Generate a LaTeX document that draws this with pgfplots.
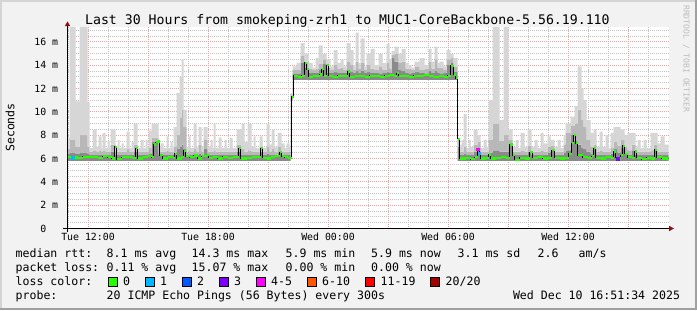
\documentclass[border=0pt]{standalone}
\usepackage{pgfplots}
\pgfplotsset{compat=1.18}
\usepackage{pgfplotstable}
\usepackage{fontspec}
\setmainfont{DejaVu Sans Mono}

\definecolor{bgc}{HTML}{F2F2F2}
\definecolor{shadeA}{HTML}{D4D4D4}
\definecolor{shadeB}{HTML}{A0A0A0}
\definecolor{mgrid}{HTML}{F4A0A0}
\definecolor{ngrid}{HTML}{C4C4C4}
\definecolor{arrowred}{HTML}{8B1010}
\definecolor{smokeL}{HTML}{D6D6D6}
\definecolor{smokeM}{HTML}{B8B8B8}
\definecolor{smokeD}{HTML}{8A8A8A}
\definecolor{lossA}{HTML}{26FF00}
\definecolor{lossB}{HTML}{00B8FF}
\definecolor{lossC}{HTML}{0059FF}
\definecolor{lossD}{HTML}{7E00FF}
\definecolor{lossE}{HTML}{FF00FF}
\definecolor{lossF}{HTML}{FF5500}
\definecolor{lossG}{HTML}{FF0000}
\definecolor{lossH}{HTML}{A10000}
\definecolor{credit}{HTML}{BDBDBD}

% smoke: lo = lowest ping, d/m/l = tops of dark, mid and light smoke bands (ms)
\pgfplotstableread{
h lo d m l
10.95 5.8 6.4 6.8 7.8
11.05 5.8 6.5 7.6 17.5
11.35 5.8 6.4 7.0 10.9
11.55 5.8 6.5 8.0 17.5
11.95 5.8 6.4 7.0 10.8
12.05 5.8 6.3 6.6 6.9
12.20 5.8 6.3 6.7 8.5
12.40 5.8 6.3 6.6 7.0
12.50 5.8 6.3 6.7 7.9
12.65 5.8 6.3 6.6 6.9
12.70 5.8 6.3 6.7 8.2
12.85 5.8 6.3 6.6 6.9
12.95 5.8 6.3 6.6 7.5
13.05 5.8 6.3 6.6 6.9
13.10 5.8 6.6 7.2 8.5
13.35 5.8 6.3 6.6 7.0
13.45 5.8 6.3 6.6 7.6
13.55 5.8 6.3 6.6 6.9
13.65 5.8 6.3 6.6 7.3
13.75 5.8 6.3 6.6 6.9
13.90 5.8 6.3 6.8 8.3
14.05 5.8 6.3 6.6 6.9
14.15 5.8 6.3 6.6 7.4
14.25 5.8 6.6 7.2 9.0
14.45 5.8 6.3 6.6 6.9
14.60 5.8 6.3 6.6 7.6
14.75 5.8 6.3 6.6 6.9
14.85 5.8 6.3 6.6 7.6
14.95 5.8 6.3 6.6 7.0
15.00 5.8 6.4 6.9 8.4
15.15 5.8 7.4 7.8 9.0
15.50 5.8 6.3 6.6 7.0
15.60 5.8 6.3 6.6 7.3
15.75 5.8 6.3 6.6 6.9
15.90 5.8 6.3 6.7 7.9
16.00 5.8 6.3 6.6 6.9
16.10 5.8 6.3 6.6 7.4
16.20 5.8 6.3 6.6 6.9
16.25 5.8 6.5 7.0 8.7
16.40 5.8 6.8 8.0 11.6
16.55 5.8 7.0 9.5 13.0
16.65 5.8 7.2 10.2 14.5
16.75 5.8 6.8 8.7 10.2
16.90 5.8 6.3 6.6 7.0
17.00 5.8 6.3 6.7 7.9
17.10 5.8 6.3 6.6 6.9
17.25 5.8 6.3 6.8 9.0
17.40 5.8 6.3 6.6 7.0
17.50 5.8 6.4 7.2 8.7
17.65 5.8 6.3 6.6 7.0
17.75 5.8 6.8 7.6 8.7
17.95 5.8 6.3 6.6 7.0
18.10 5.8 6.3 6.6 7.6
18.20 5.8 6.3 6.6 6.9
18.25 5.8 6.3 6.7 9.0
18.35 5.8 6.3 6.6 6.9
18.50 5.8 6.3 6.6 7.8
18.65 5.8 6.3 6.6 6.9
18.80 5.8 6.3 6.6 7.6
18.90 5.8 6.3 6.6 6.9
19.05 5.8 6.3 6.6 7.8
19.20 5.8 6.3 6.6 6.9
19.40 5.8 6.6 7.2 8.5
19.65 5.8 6.3 6.8 9.0
19.80 5.8 6.3 6.6 7.4
19.95 5.8 6.3 6.7 9.0
20.15 5.8 6.3 6.6 7.0
20.25 5.8 6.3 6.6 7.9
20.35 5.8 6.3 6.6 6.9
20.55 5.8 6.6 7.0 7.9
20.70 5.8 6.3 6.6 6.9
20.90 5.8 6.4 7.0 9.0
21.05 5.8 6.3 6.6 7.2
21.15 5.8 6.3 6.8 8.5
21.30 5.8 6.3 6.6 7.0
21.45 5.8 6.5 7.0 8.2
21.65 5.8 6.3 6.6 7.3
21.80 5.8 6.3 6.6 6.9
21.90 5.8 6.3 6.6 7.3
22.05 5.8 6.3 6.6 7.0
22.10 11.0 11.3 11.5 11.6
22.20 12.75 13.3 13.6 13.9
22.40 12.75 13.3 13.6 14.2
22.60 12.75 14.2 14.8 15.9
22.80 12.75 13.8 14.3 15.0
23.00 12.75 13.35 13.7 14.2
23.20 12.75 13.35 13.6 13.8
23.35 12.75 13.35 13.7 14.6
23.50 12.75 13.6 14.1 15.7
23.70 12.75 14.1 14.5 15.0
23.90 12.75 13.35 13.8 14.5
24.10 12.75 13.35 13.6 13.9
24.25 12.75 13.4 14.0 15.3
24.45 12.75 13.35 13.7 14.2
24.60 12.75 13.35 13.8 14.5
24.75 12.75 13.35 13.6 13.9
24.90 12.75 13.6 14.3 15.9
25.10 12.75 13.4 14.0 15.3
25.25 12.75 13.35 13.6 14.0
25.35 12.75 13.5 14.3 16.8
25.50 12.75 13.35 13.7 14.2
25.60 12.75 13.5 14.2 16.3
25.80 12.75 13.35 13.6 13.9
25.90 12.75 13.4 14.0 15.0
26.10 12.75 13.35 13.7 15.4
26.30 12.75 13.35 13.6 14.0
26.50 12.75 13.3 13.9 15.0
26.70 12.75 13.35 13.6 14.2
26.90 12.75 13.4 14.2 15.8
27.05 12.75 13.35 13.7 14.5
27.15 12.75 14.6 14.9 15.2
27.30 12.75 14.3 15.0 15.6
27.50 12.75 13.6 14.2 15.0
27.65 12.75 13.5 14.3 15.4
27.85 12.75 13.35 13.7 14.2
28.00 12.75 13.3 13.7 14.0
28.15 12.75 13.35 13.6 13.8
28.30 12.75 13.4 13.9 14.3
28.55 12.75 13.35 13.6 14.6
28.80 12.75 13.3 13.7 14.0
29.00 12.75 13.5 14.3 15.4
29.15 12.75 13.35 13.7 14.3
29.30 12.75 13.5 14.5 15.6
29.45 12.75 13.35 13.8 14.2
29.55 12.75 13.3 13.8 14.3
29.75 12.75 13.35 13.6 13.9
29.90 12.75 14.0 14.5 15.3
30.10 12.75 14.2 14.6 15.0
30.25 12.75 13.4 13.9 14.6
30.45 5.8 7.0 7.6 7.6
30.55 5.8 6.3 6.6 7.2
30.65 5.8 6.3 6.6 7.6
30.75 5.8 6.4 7.0 9.8
30.90 5.8 6.3 6.6 6.9
31.00 5.8 6.3 6.6 7.6
31.10 5.8 6.3 6.6 7.0
31.25 5.8 6.6 7.2 8.5
31.45 5.8 6.9 7.4 8.0
31.60 5.8 6.3 6.6 6.9
31.75 5.8 6.3 6.6 7.6
31.90 5.8 6.3 6.6 7.0
32.00 5.8 6.5 7.6 11.0
32.20 5.8 6.7 9.0 17.5
32.55 5.8 6.6 7.5 9.3
32.75 5.8 6.6 8.0 17.5
33.00 5.8 7.2 7.6 8.5
33.20 5.8 6.3 6.6 7.0
33.35 5.8 6.3 6.6 7.6
33.50 5.8 6.3 6.6 6.9
33.60 5.8 6.3 6.7 8.2
33.80 5.8 6.3 6.6 7.0
33.95 5.8 6.6 7.1 8.5
34.15 5.8 6.3 6.6 7.0
34.30 5.8 6.3 6.6 7.6
34.45 5.8 6.3 6.6 6.9
34.60 5.8 6.3 6.7 8.2
34.75 5.8 6.3 6.6 7.3
34.95 5.8 6.5 7.0 7.9
35.10 5.8 6.7 7.1 7.6
35.30 5.8 6.3 6.6 7.0
35.45 5.8 6.3 6.6 7.6
35.60 5.8 6.3 6.6 6.9
35.75 5.8 6.5 7.2 8.0
35.85 5.8 6.7 8.2 9.0
36.10 5.8 8.0 8.8 9.6
36.30 5.8 7.5 9.0 10.5
36.45 5.8 7.2 10.2 13.9
36.65 5.8 6.9 9.3 12.0
36.75 5.8 6.8 8.7 11.0
36.90 5.8 6.6 7.6 9.3
37.10 5.8 6.4 7.0 8.2
37.25 5.8 6.8 7.2 8.5
37.40 5.8 6.3 6.6 7.0
37.55 5.8 6.3 6.7 8.3
37.70 5.8 6.3 6.6 7.0
37.85 5.8 6.3 6.6 8.0
38.00 5.8 6.3 6.6 6.9
38.10 5.8 6.4 6.9 8.2
38.25 5.8 6.8 7.4 8.7
38.45 5.8 6.5 7.1 8.7
38.60 5.8 6.9 7.6 8.5
38.80 5.8 6.5 7.0 8.0
38.95 5.8 6.3 6.7 8.2
39.15 5.8 6.7 7.2 8.2
39.35 5.8 6.3 6.6 7.0
39.45 5.8 6.3 6.6 7.6
39.60 5.8 6.3 6.6 6.9
39.75 5.8 6.3 6.6 7.6
39.90 5.8 6.3 6.6 6.9
40.10 5.8 6.3 6.7 8.2
40.25 5.8 6.7 7.2 8.2
40.45 5.8 6.3 6.6 7.3
40.60 5.8 6.3 6.6 7.9
40.80 5.8 6.3 6.6 7.2
41.00 5.8 6.3 6.6 7.2
}\smoke

\pgfplotstableread{
h med
10.95 6.10
11.20 6.08
11.45 6.05
11.70 6.15
11.95 6.10
12.20 6.12
12.45 6.05
12.70 6.20
12.95 6.10
13.15 6.00
13.30 7.00
13.40 5.95
13.65 6.10
13.90 6.15
14.15 6.05
14.35 6.90
14.45 6.00
14.70 6.10
14.95 6.20
15.15 6.10
15.25 7.20
15.35 7.40
15.45 7.45
15.55 6.30
15.70 6.00
15.95 6.10
16.20 6.05
16.30 6.40
16.40 6.00
16.65 6.10
16.75 6.65
16.85 6.20
17.05 6.10
17.25 6.25
17.45 6.00
17.65 6.20
17.90 6.30
18.00 6.05
18.20 6.10
18.45 6.00
18.70 6.15
18.95 6.05
19.20 6.10
19.50 6.90
19.60 6.00
19.90 6.05
20.15 6.10
20.40 6.15
20.60 6.90
20.70 6.05
20.90 6.00
21.10 6.10
21.30 6.20
21.55 6.55
21.65 6.20
21.80 6.10
21.95 6.05
22.15 11.30
22.25 13.10
22.45 13.00
22.65 13.10
22.80 14.20
22.90 13.65
23.00 13.00
23.20 13.05
23.40 13.10
23.55 13.20
23.65 13.65
23.75 13.10
23.90 14.00
24.00 13.10
24.20 13.00
24.45 13.10
24.70 13.05
24.95 13.45
25.05 13.00
25.30 13.05
25.55 13.10
25.80 13.00
26.05 13.10
26.30 13.05
26.55 13.00
26.80 13.10
27.05 13.15
27.25 13.10
27.40 13.30
27.50 13.10
27.75 13.05
28.00 13.00
28.25 13.10
28.50 13.05
28.75 13.15
29.00 13.10
29.25 13.00
29.50 13.05
29.75 13.00
29.95 13.10
30.10 13.95
30.25 13.20
30.35 12.90
30.45 7.70
30.55 6.00
30.85 6.05
31.10 5.95
31.30 6.10
31.45 6.80
31.525 6.45
31.60 6.00
31.85 6.05
32.00 6.35
32.10 6.00
32.35 6.05
32.60 6.10
32.85 6.05
33.05 7.20
33.20 6.30
33.30 5.90
33.55 6.05
33.80 6.00
34.05 6.55
34.20 6.05
34.45 6.10
34.70 6.00
34.95 6.05
35.15 6.70
35.30 6.05
35.55 6.00
35.80 6.05
36.00 6.40
36.15 7.30
36.25 8.00
36.35 7.30
36.45 6.30
36.70 6.10
36.95 6.05
37.15 6.20
37.25 6.90
37.35 6.05
37.60 6.00
37.85 6.10
38.10 6.05
38.25 6.60
38.35 6.05
38.45 6.00
38.60 6.30
38.70 7.10
38.80 6.40
38.95 6.10
39.15 6.05
39.30 6.60
39.40 6.05
39.65 5.95
39.90 6.05
40.10 6.00
40.30 6.75
40.40 6.10
40.65 6.00
41.00 6.05
}\median

\begin{document}
\begin{tikzpicture}[x=1bp,y=1bp]
\fill[bgc] (0,0) rectangle (697,310);
\fill[shadeA] (0,308) rectangle (697,310);
\fill[shadeA] (0,0) rectangle (2,310);
\fill[shadeB] (695,0) rectangle (697,310);
\fill[shadeB] (0,0) rectangle (697,2);

\begin{axis}[
  at={(67.5bp,81.5bp)}, anchor=south west,
  scale only axis, width=601bp, height=201bp,
  xmin=10.95, xmax=41.0, ymin=0, ymax=17.23,
  axis background/.style={fill=white},
  axis line style={draw=none},
  major tick length=0pt, minor tick length=0pt,
  xtick={12,15,...,39},
  xticklabels={Tue 12:00,,Tue 18:00,,Wed 00:00,,Wed 06:00,,Wed 12:00,},
  ytick={0,2,...,16},
  yticklabels={0\phantom{ m},2 m,4 m,6 m,8 m,10 m,12 m,14 m,16 m},
  minor ytick={0.5,1,...,17},
  xmajorgrids=false, xminorgrids=false,
  ymajorgrids=true, yminorgrids=true,
  major grid style={draw=mgrid, line width=1bp, dash pattern=on 1bp off 1bp},
  minor grid style={draw=ngrid, line width=1bp, dash pattern=on 1bp off 1bp},
  ticklabel style={font=\fontsize{9.9}{12}\selectfont, inner sep=0pt},
  xticklabel style={anchor=base, xshift=-0.5bp, yshift=-12.2bp},
  yticklabel style={anchor=base east, xshift=-9.2bp, yshift=-3.6bp},
]
\pgfplotsinvokeforeach{11,13,14,16,17,19,20,22,23,25,26,28,29,31,32,34,35,37,38,40}{
  \draw[ngrid, line width=1bp, dash pattern=on 1bp off 1bp] (axis cs:#1,0) -- (axis cs:#1,17.23);
}
\pgfplotsinvokeforeach{12,15,18,21,24,27,30,33,36,39}{
  \draw[mgrid, line width=1bp, dash pattern=on 1bp off 1bp] (axis cs:#1,0) -- (axis cs:#1,17.23);
}
\addplot[draw=none, fill=none, const plot, stack plots=y] table[x=h,y=lo]{\smoke};
\addplot[draw=none, fill=smokeD, const plot, stack plots=y] table[x=h,y expr=\thisrow{d}-\thisrow{lo}]{\smoke} \closedcycle;
\addplot[draw=none, fill=smokeM, const plot, stack plots=y] table[x=h,y expr=\thisrow{m}-\thisrow{d}]{\smoke} \closedcycle;
\addplot[draw=none, fill=smokeL, const plot, stack plots=y] table[x=h,y expr=\thisrow{l}-\thisrow{m}]{\smoke} \closedcycle;
\addplot[black, line width=0.9bp, const plot] table[x=h,y=med]{\median};
\addplot[lossA, line width=2.3bp, jump mark left] table[x=h,y=med]{\median};
\addplot[only marks, mark=square*, mark size=1.2bp, lossB] coordinates {(11.20,6.08) (31.525,6.45)};
\addplot[only marks, mark=square*, mark size=1.2bp, lossE] coordinates {(31.45,6.80)};
\addplot[only marks, mark=square*, mark size=1.2bp, lossD] coordinates {(38.45,6.00)};
\end{axis}

% axes
\draw[black, line width=1bp] (63,81.5) -- (669,81.5);
\fill[arrowred] (669,78.8) -- (674,81.5) -- (669,84.2) -- cycle;
\draw[black, line width=1bp] (67.5,78) -- (67.5,284);
\fill[arrowred] (64.8,284) -- (67.5,288.5) -- (70.2,284) -- cycle;

% title
\node[anchor=base, inner sep=0pt, font=\fontsize{13.25}{15}\selectfont] at (347.4,286) {Last 30 Hours from smokeping-zrh1 to MUC1-CoreBackbone-5.56.19.110};
% y label
\node[rotate=90, anchor=base, inner sep=0pt, font=\fontsize{11.6}{13}\selectfont] at (14.3,182.5) {Seconds};
% credit
\node[rotate=-90, anchor=base west, inner sep=0pt, text=credit, font=\fontsize{8.1}{10}\selectfont] at (683.5,305) {RRDTOOL / TOBI OETIKER};

% legend
\begin{scope}[every node/.style={anchor=base west, inner sep=0pt, font=\fontsize{11.6}{13}\selectfont}]
\node at (15.5,53) {median rtt:};
\node at (106.5,53) {8.1 ms avg};
\node at (191.5,53) {14.3 ms max};
\node at (285.5,53) {5.9 ms min};
\node at (371,53) {5.9 ms now};
\node at (457.5,53) {3.1 ms sd};
\node at (537.5,53) {2.6};
\node at (578.5,53) {am/s};

\node at (15.5,39) {packet loss:};
\node at (106.5,39) {0.11 \% avg};
\node at (191.5,39) {15.07 \% max};
\node at (285.5,39) {0.00 \% min};
\node at (371,39) {0.00 \% now};

\node at (15.5,25) {loss color:};
\node at (123,25) {0};
\node at (160,25) {1};
\node at (197,25) {2};
\node at (234,25) {3};
\node at (271,25) {4-5};
\node at (322,25) {6-10};
\node at (380.5,25) {11-19};
\node at (445.5,25) {20/20};

\node at (15.5,11) {probe:};
\node at (106.5,11) {20 ICMP Echo Pings (56 Bytes) every 300s};
\node at (512.8,11) {Wed Dec 10 16:51:34 2025};
\end{scope}
\foreach \bx/\bc in {108.5/lossA,145.5/lossB,182.5/lossC,219.5/lossD,256.5/lossE,307.5/lossF,365.5/lossG,430.5/lossH}{
  \filldraw[fill=\bc, draw=black, line width=1bp] (\bx,24) rectangle ++(8.5,8.5);
}
\pgfresetboundingbox
\useasboundingbox (0,0) rectangle (697,310);
\end{tikzpicture}
\end{document}
